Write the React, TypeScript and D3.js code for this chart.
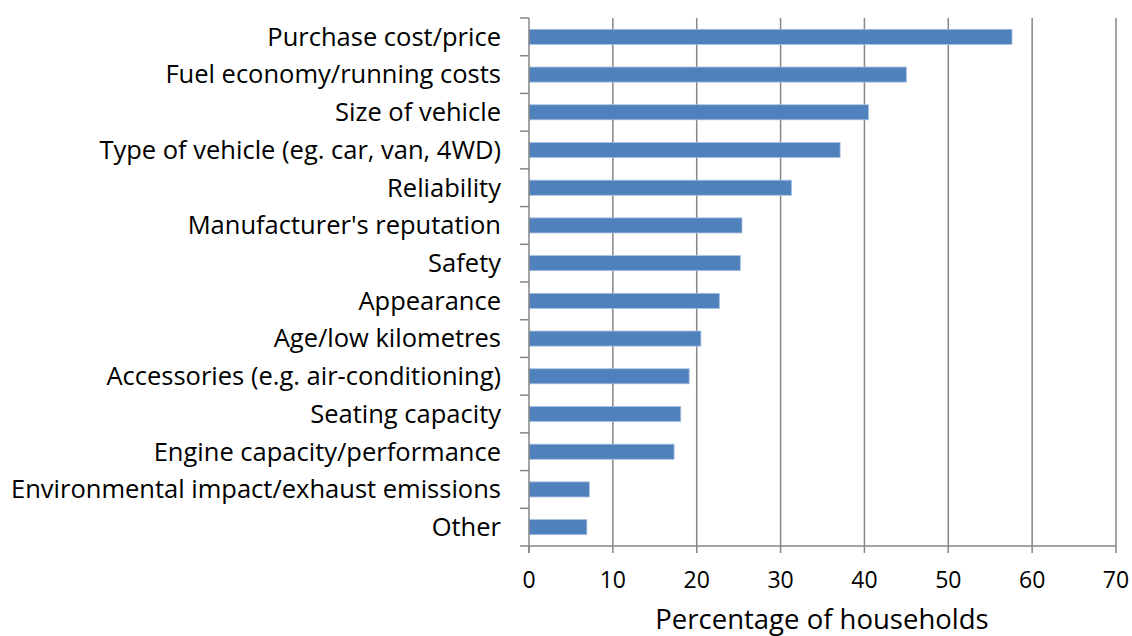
import { useEffect, useRef } from 'react'
import * as d3 from 'd3'

const CATEGORIES = [
  'Purchase cost/price',
  'Fuel economy/running costs',
  'Size of vehicle',
  'Type of vehicle (eg. car, van, 4WD)',
  'Reliability',
  "Manufacturer's reputation",
  'Safety',
  'Appearance',
  'Age/low kilometres',
  'Accessories (e.g. air-conditioning)',
  'Seating capacity',
  'Engine capacity/performance',
  'Environmental impact/exhaust emissions',
  'Other',
]
const VALUES = [57.6, 45.0, 40.5, 37.1, 31.3, 25.4, 25.2, 22.7, 20.5, 19.1, 18.1, 17.3, 7.2, 6.9]
const X_TICKS = [0, 10, 20, 30, 40, 50, 60, 70]
const X_TITLE = 'Percentage of households'

const WIDTH = 1132
const HEIGHT = 636
const MARGIN = { top: 18, right: 16, bottom: 90, left: 529 }
const FONT = '"Open Sans", "Noto Sans", sans-serif'

export default function App() {
  const svgRef = useRef<SVGSVGElement>(null)

  useEffect(() => {
    const svg = d3.select(svgRef.current)
    svg.selectAll('*').remove()

    const x = d3
      .scaleLinear()
      .domain([0, 70])
      .range([MARGIN.left, WIDTH - MARGIN.right])
    const y = d3
      .scaleBand()
      .domain(CATEGORIES)
      .range([MARGIN.top, HEIGHT - MARGIN.bottom])
      .paddingInner(0.6)
      .paddingOuter(0.3)
    const yEdges = d3
      .scaleLinear()
      .domain([0, CATEGORIES.length])
      .range([MARGIN.top, HEIGHT - MARGIN.bottom])

    const bottom = HEIGHT - MARGIN.bottom

    // vertical gridlines
    svg
      .append('g')
      .selectAll('line')
      .data(X_TICKS.slice(1))
      .join('line')
      .attr('x1', (d) => x(d))
      .attr('x2', (d) => x(d))
      .attr('y1', MARGIN.top)
      .attr('y2', bottom)
      .attr('stroke', '#868686')
      .attr('stroke-width', 1.5)

    // bars
    svg
      .append('g')
      .selectAll('rect')
      .data(VALUES)
      .join('rect')
      .attr('x', x(0))
      .attr('y', (_, i) => y(CATEGORIES[i]) as number)
      .attr('width', (d) => x(d) - x(0))
      .attr('height', y.bandwidth())
      .attr('fill', '#4f81bd')
      .attr('stroke', '#a9c1e0')
      .attr('stroke-width', 0.8)

    // y axis line and ticks
    svg
      .append('line')
      .attr('x1', x(0))
      .attr('x2', x(0))
      .attr('y1', MARGIN.top)
      .attr('y2', bottom + 7)
      .attr('stroke', '#868686')
      .attr('stroke-width', 1.5)
    svg
      .append('g')
      .selectAll('line')
      .data(d3.range(CATEGORIES.length + 1))
      .join('line')
      .attr('x1', x(0) - 9)
      .attr('x2', x(0))
      .attr('y1', (d) => yEdges(d))
      .attr('y2', (d) => yEdges(d))
      .attr('stroke', '#868686')
      .attr('stroke-width', 1.5)

    // x axis line and ticks
    svg
      .append('line')
      .attr('x1', x(0))
      .attr('x2', x(70))
      .attr('y1', bottom)
      .attr('y2', bottom)
      .attr('stroke', '#868686')
      .attr('stroke-width', 1.5)
    svg
      .append('g')
      .selectAll('line')
      .data(X_TICKS)
      .join('line')
      .attr('x1', (d) => x(d))
      .attr('x2', (d) => x(d))
      .attr('y1', bottom)
      .attr('y2', bottom + 7)
      .attr('stroke', '#868686')
      .attr('stroke-width', 1.5)

    // category labels
    svg
      .append('g')
      .selectAll('text')
      .data(CATEGORIES)
      .join('text')
      .attr('x', 501)
      .attr('y', (d) => (y(d) as number) + y.bandwidth() / 2)
      .attr('dy', '0.35em')
      .attr('text-anchor', 'end')
      .attr('font-family', FONT)
      .attr('font-size', 25.5)
      .attr('fill', '#000')
      .text((d) => d)

    // x tick labels
    svg
      .append('g')
      .selectAll('text')
      .data(X_TICKS)
      .join('text')
      .attr('x', (d) => x(d))
      .attr('y', bottom + 42)
      .attr('text-anchor', 'middle')
      .attr('font-family', FONT)
      .attr('font-size', 23)
      .attr('fill', '#000')
      .text((d) => d)

    svg
      .append('text')
      .attr('x', 822)
      .attr('y', 629)
      .attr('text-anchor', 'middle')
      .attr('font-family', FONT)
      .attr('font-size', 27.5)
      .attr('fill', '#000')
      .text(X_TITLE)
  }, [])

  return (
    <svg
      ref={svgRef}
      width={WIDTH}
      height={HEIGHT}
      style={{ position: 'absolute', left: 0, top: 0, background: '#fff' }}
    />
  )
}
